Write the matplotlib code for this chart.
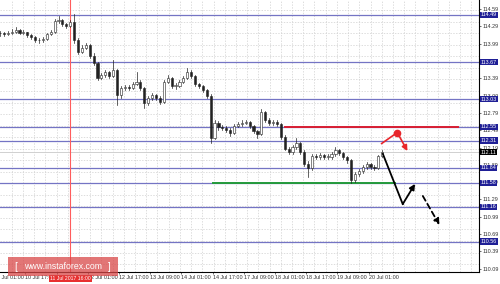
import matplotlib
matplotlib.use("Agg")
import matplotlib.pyplot as plt
from matplotlib.patches import Rectangle
import matplotlib.transforms as mtransforms

plt.rcParams['font.family'] = ['Liberation Sans', 'DejaVu Sans']

# 2-hour bars, x measured in hours from the left edge
closes = [114.18, 114.16, 114.18, 114.19, 114.23, 114.18, 114.19, 114.14, 114.11, 114.05,
          114.05, 114.07, 114.16, 114.19, 114.38, 114.40, 114.33, 114.30, 114.37, 114.05,
          113.85, 113.92, 113.97, 113.78, 113.66, 113.40, 113.45, 113.50, 113.43, 113.53,
          113.10, 113.22, 113.24, 113.22, 113.29, 113.33, 113.22, 112.96, 113.05, 113.10,
          113.05, 112.98, 113.33, 113.40, 113.26, 113.26, 113.33, 113.40, 113.50, 113.43,
          113.29, 113.26, 113.19, 113.08, 112.36, 112.62, 112.55, 112.53, 112.50, 112.44,
          112.56, 112.60, 112.62, 112.63, 112.56, 112.48, 112.43, 112.81, 112.67, 112.62,
          112.63, 112.60, 112.37, 112.17, 112.11, 112.20, 112.27, 112.11, 111.91, 111.84,
          112.04, 112.03, 112.06, 112.03, 112.03, 112.08, 112.15, 112.10, 112.03, 111.97,
          111.63, 111.73, 111.78, 111.85, 111.91, 111.85, 111.84, 112.04, 112.11]
highs = [114.21, 114.20, 114.21, 114.24, 114.28, 114.25, 114.22, 114.20, 114.15, 114.12,
         114.09, 114.10, 114.18, 114.22, 114.42, 114.47, 114.42, 114.35, 114.40, 114.50,
         114.08, 113.96, 114.01, 113.99, 113.82, 113.68, 113.49, 113.53, 113.52, 113.71,
         113.55, 113.25, 113.28, 113.27, 113.32, 113.50, 113.36, 113.24, 113.08, 113.13,
         113.12, 113.08, 113.36, 113.44, 113.41, 113.30, 113.36, 113.43, 113.57, 113.54,
         113.45, 113.31, 113.28, 113.21, 113.11, 112.66, 112.65, 112.58, 112.56, 112.53,
         112.59, 112.64, 112.66, 112.66, 112.65, 112.58, 112.50, 112.86, 112.83, 112.70,
         112.66, 112.66, 112.62, 112.40, 112.20, 112.23, 112.36, 112.29, 112.14, 111.95,
         112.07, 112.08, 112.09, 112.08, 112.07, 112.12, 112.20, 112.17, 112.12, 112.05,
         111.99, 111.76, 111.82, 111.88, 111.94, 111.93, 111.89, 112.06, 112.14]
lows = [114.12, 114.13, 114.14, 114.15, 114.17, 114.15, 114.16, 114.11, 114.07, 114.02,
        114.01, 114.02, 114.05, 114.14, 114.17, 114.35, 114.29, 114.27, 114.28, 114.01,
        113.81, 113.83, 113.89, 113.75, 113.62, 113.36, 113.37, 113.42, 113.40, 113.41,
        112.93, 113.05, 113.19, 113.18, 113.20, 113.27, 113.19, 112.88, 112.93, 113.01,
        113.01, 112.94, 112.96, 113.30, 113.22, 113.21, 113.24, 113.30, 113.37, 113.39,
        113.25, 113.22, 113.15, 113.04, 112.27, 112.33, 112.50, 112.49, 112.46, 112.39,
        112.42, 112.54, 112.57, 112.59, 112.53, 112.45, 112.36, 112.40, 112.63, 112.58,
        112.58, 112.56, 112.34, 112.14, 112.07, 112.08, 112.17, 112.07, 111.87, 111.68,
        111.80, 111.99, 112.00, 112.00, 111.99, 112.00, 112.05, 112.06, 111.99, 111.93,
        111.58, 111.60, 111.70, 111.75, 111.82, 111.81, 111.80, 111.82, 112.02]
first_open = 114.17

level_lines = [114.49, 113.67, 113.03, 112.55, 112.31, 111.84, 111.58, 111.16, 110.56]
current_price = 112.11
resistance = 112.55
support = 111.58

tick_hours = [13, 29, 45, 61, 77, 93, 109, 125, 141, 157, 173, 189]
tick_labels = ["10 Jul 17:00", "11 Jul 09:00", "12 Jul 01:00", "12 Jul 17:00",
               "13 Jul 09:00", "14 Jul 01:00", "14 Jul 17:00", "17 Jul 09:00",
               "18 Jul 01:00", "18 Jul 17:00", "19 Jul 09:00", "20 Jul 01:00"]
y_ticks = [110.09, 110.39, 110.69, 110.99, 111.29, 111.59, 111.89, 112.19,
           112.49, 112.79, 113.09, 113.39, 113.69, 113.99, 114.29, 114.59]

# forecast sketch (hours, price)
red_path_x = [195.7, 203.7]
red_path_y = [112.26, 112.45]
red_arrow_end = (208.9, 112.13)
black_path_x = [196.3, 206.5]
black_path_y = [112.08, 111.21]
black_arrow_end = (212.8, 111.56)
dash_start = (216.8, 111.35)
dash_end = (225.3, 110.85)

marker_hour = 36

fig = plt.figure(figsize=(5, 2.84), dpi=100)
ax = fig.add_axes([0, 12 / 284, 479 / 500, 272 / 284])
ax.set_xlim(0, 245.6)
ax.set_ylim(110.033, 114.747)

# grid
for gx in [6 + 5.75 * i for i in range(43)]:
    ax.axvline(gx, color="#cfcfcf", lw=0.5, ls=(0, (2, 2)), zorder=0)
for gy in [110.17 + 0.2 * i for i in range(24)]:
    ax.axhline(gy, color="#cfcfcf", lw=0.5, ls=(0, (2, 2)), zorder=0)

for lv in level_lines:
    ax.axhline(lv, color="#7474c4", lw=0.9, zorder=1)
ax.axhline(current_price, color="#d0d0d0", lw=0.7, zorder=1)
ax.axvline(marker_hour, color="#ff5c5c", lw=0.8, zorder=1)

ax.plot([146, 235], [resistance, resistance], color="#d81e32", lw=1.4, zorder=2)
ax.plot([109, 202.6], [support, support], color="#239a3b", lw=1.4, zorder=2)

# candles
opens = [first_open] + closes[:-1]
for k in range(len(closes)):
    x = 2 * k
    o, c, h, l = opens[k], closes[k], highs[k], lows[k]
    ax.plot([x, x], [l, h], color="#222222", lw=0.5, zorder=3)
    bottom = min(o, c)
    height = max(abs(c - o), 0.006)
    face = "white" if c >= o else "#222222"
    ax.add_patch(Rectangle((x - 0.55, bottom), 1.1, height, facecolor=face,
                           edgecolor="#222222", lw=0.4, zorder=4))

# forecast arrows
ax.plot(red_path_x, red_path_y, color="#e8262b", lw=1.2, zorder=5)
ax.plot(red_path_x[1], red_path_y[1], "o", color="#e8262b", ms=4.5, zorder=6)
ax.annotate("", xy=red_arrow_end, xytext=(red_path_x[1], red_path_y[1]),
            arrowprops=dict(arrowstyle="-|>", color="#e8262b", lw=1.2,
                            mutation_scale=8, shrinkA=0, shrinkB=0), zorder=6)
ax.plot(black_path_x, black_path_y, color="black", lw=1.3, zorder=5)
ax.annotate("", xy=black_arrow_end, xytext=(black_path_x[1], black_path_y[1]),
            arrowprops=dict(arrowstyle="-|>", color="black", lw=1.3,
                            mutation_scale=8, shrinkA=0, shrinkB=0), zorder=6)
ax.annotate("", xy=dash_end, xytext=dash_start,
            arrowprops=dict(arrowstyle="-|>", color="black", lw=1.3, ls=(0, (3, 2)),
                            mutation_scale=8, shrinkA=0, shrinkB=0), zorder=6)

# axes styling
for side in ["left", "top"]:
    ax.spines[side].set_visible(False)
ax.spines["right"].set_linewidth(0.8)
ax.spines["bottom"].set_linewidth(0.8)
ax.yaxis.tick_right()
ax.set_yticks(y_ticks)
ax.set_yticklabels([f"{v:.2f}" for v in y_ticks])
ax.tick_params(axis="y", labelsize=3.9, length=1.5, width=0.5, pad=0.8, colors="#333333")
ax.set_xticks(tick_hours)
ax.set_xticklabels(tick_labels, ha="left")
ax.tick_params(axis="x", labelsize=3.9, length=1.5, width=0.5, pad=1, colors="#333333")
xtr = mtransforms.blended_transform_factory(ax.transData, ax.transAxes)
ax.text(-3, -0.012, "10 Jul 01:00", transform=xtr, fontsize=3.9, color="#333333",
        ha="left", va="top", clip_on=False)

ytr = mtransforms.blended_transform_factory(ax.transAxes, ax.transData)
for lv in level_lines:
    ax.text(1.004, lv, f"{lv:.2f}", transform=ytr, fontsize=3.9, color="white",
            va="center", ha="left", clip_on=False, zorder=10,
            bbox=dict(boxstyle="square,pad=0.12", fc="#1f1f96", ec="none"))
ax.text(1.004, current_price, f"{current_price:.2f}", transform=ytr, fontsize=3.9,
        color="white", va="center", ha="left", clip_on=False, zorder=10,
        bbox=dict(boxstyle="square,pad=0.12", fc="black", ec="none"))

ax.text(marker_hour, -0.014, "11 Jul 2017 16:00", transform=xtr, fontsize=3.7,
        color="white", ha="center", va="top", clip_on=False, zorder=10,
        bbox=dict(boxstyle="square,pad=0.2", fc="#e83030", ec="none"))

# watermark
fig.patches.append(Rectangle((8 / 500, 8 / 284), 110 / 500, 19 / 284, transform=fig.transFigure,
                             facecolor="#d94848", alpha=0.75, edgecolor="none", zorder=20))
fig.text(14 / 500, 17.5 / 284, "[", color="white", fontsize=7, ha="left", va="center", zorder=21)
fig.text(63 / 500, 17.5 / 284, "www.instaforex.com", color="white", fontsize=6.3,
         ha="center", va="center", zorder=21)
fig.text(111 / 500, 17.5 / 284, "]", color="white", fontsize=7, ha="right", va="center", zorder=21)

fig.savefig("out.png", dpi=100)
